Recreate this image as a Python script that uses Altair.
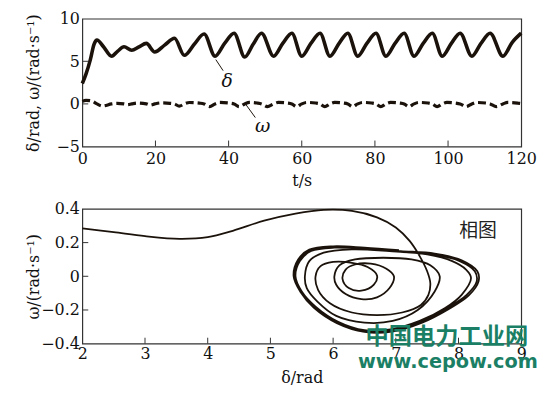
import altair as alt
import pandas as pd

# ---------------- data: time series (top panel) ----------------
t_delta = [0, 1, 2.2, 3.2, 4.0, 5.8, 8.0, 9.7, 11.4, 13.5,
           15.5, 17.5, 19.8, 22.5, 25.2, 27.9, 30.6, 33.3, 36.3, 38.9,
           41.5, 44.4, 46.7, 49.0, 52.3, 54.8, 57.3, 60.0, 62.5, 65.0,
           67.7, 70.2, 72.6, 75.3, 77.8, 80.3, 83.0, 85.5, 88.0, 90.7,
           93.2, 95.7, 98.4, 100.9, 103.3, 106.5, 109.0, 111.5, 115.0, 117.5,
           120.0]
delta = [2.4, 3.5, 5.2, 7.0, 7.5, 6.7, 5.6, 6.2, 6.7, 6.3,
         6.7, 7.1, 6.1, 6.9, 7.7, 5.7, 7.0, 8.2, 5.6, 7.1,
         8.3, 5.5, 7.0, 8.3, 5.6, 7.1, 8.3, 5.6, 7.1, 8.3,
         5.6, 7.1, 8.3, 5.6, 7.1, 8.3, 5.6, 7.1, 8.3, 5.6,
         7.1, 8.3, 5.6, 7.1, 8.3, 5.6, 7.1, 8.3, 5.6, 7.2,
         8.3]

t_omega = [0, 1.0, 2.5, 4.0, 5.5, 8.0, 9.5, 11.4, 12.4, 13.5,
           15.0, 17.5, 18.6, 19.8, 21.5, 24.0, 25.2, 26.5, 27.9, 29.3,
           32.0, 33.3, 34.8, 36.3, 37.6, 40.3, 41.5, 42.9, 44.4, 45.7,
           47.8, 49.0, 50.6, 52.3, 53.6, 56.1, 57.3, 58.6, 60.0, 61.3,
           63.8, 65.0, 66.3, 67.7, 69.0, 71.4, 72.6, 73.9, 75.3, 76.6,
           79.1, 80.3, 81.6, 83.0, 84.3, 86.8, 88.0, 89.3, 90.7, 92.0,
           94.5, 95.7, 97.0, 98.4, 99.7, 102.1, 103.3, 104.9, 106.5, 107.8,
           110.3, 111.5, 113.2, 115.0, 116.3, 119.0, 120.0]
omega = [0.30, 0.42, 0.35, 0.0, -0.25, 0.0, 0.07, 0.0, -0.08, 0.0,
         0.09, 0.0, -0.14, 0.0, 0.12, 0.07, 0.0, -0.27, 0.0, 0.16,
         0.09, 0.0, -0.31, 0.0, 0.17, 0.10, 0.0, -0.32, 0.0, 0.17,
         0.10, 0.0, -0.32, 0.0, 0.17, 0.10, 0.0, -0.32, 0.0, 0.17,
         0.10, 0.0, -0.32, 0.0, 0.17, 0.10, 0.0, -0.32, 0.0, 0.17,
         0.10, 0.0, -0.32, 0.0, 0.17, 0.10, 0.0, -0.32, 0.0, 0.17,
         0.10, 0.0, -0.32, 0.0, 0.17, 0.10, 0.0, -0.32, 0.0, 0.17,
         0.10, 0.0, -0.32, 0.0, 0.17, 0.10, 0.05]

# ---------------- data: phase portrait (bottom panel) ----------------
phase_delta = [
    2.00, 2.50, 3.00, 3.55, 4.00, 4.40, 4.90, 5.40, 5.85, 6.30, 6.70, 7.00, 7.22, 7.38, 7.50, 7.55, 7.52,
    7.40, 7.10, 6.70, 6.30, 5.95, 5.76, 5.72,
    5.80, 6.00, 6.30, 6.55, 6.70,
    6.65, 6.45, 6.25, 6.15,
    6.20, 6.35, 6.60, 6.85, 6.97,
    6.90, 6.70, 6.45, 6.20, 6.05, 6.02,
    6.10, 6.35, 6.80, 7.25, 7.55, 7.70,
    7.62, 7.35, 6.95, 6.50, 6.05, 5.75, 5.58, 5.55,
    5.62, 5.85, 6.30, 6.90, 7.50, 7.90, 8.12, 8.20,
    8.05, 7.78, 7.38, 6.92, 6.50, 6.08, 5.72, 5.50, 5.40,
    5.47, 5.65, 6.02, 6.55, 7.08, 7.60, 8.02, 8.26, 8.29,
    8.13, 7.81, 7.39, 6.92, 6.50, 6.08, 5.71, 5.50, 5.39,
    5.45, 5.63, 6.00, 6.55, 7.08, 7.62, 8.05, 8.30, 8.32,
    8.16, 7.84, 7.42, 6.94, 6.50, 6.06, 5.69, 5.48, 5.37,
    5.44, 5.62, 6.00, 6.50, 7.05,
]
phase_omega = [
    0.285, 0.262, 0.238, 0.222, 0.232, 0.270, 0.330, 0.372, 0.394, 0.388, 0.350, 0.290, 0.210, 0.120, 0.030, -0.040, -0.110,
    -0.170, -0.215, -0.230, -0.215, -0.160, -0.080, 0.000,
    0.060, 0.085, 0.080, 0.055, 0.005,
    -0.050, -0.085, -0.070, -0.015,
    0.040, 0.070, 0.075, 0.045, 0.000,
    -0.070, -0.125, -0.135, -0.105, -0.050, 0.000,
    0.065, 0.100, 0.110, 0.100, 0.065, 0.000,
    -0.090, -0.200, -0.265, -0.275, -0.235, -0.150, -0.070, 0.000,
    0.090, 0.140, 0.160, 0.150, 0.130, 0.090, 0.040, -0.010,
    -0.110, -0.190, -0.265, -0.315, -0.320, -0.270, -0.180, -0.090, 0.000,
    0.090, 0.150, 0.170, 0.160, 0.145, 0.130, 0.090, 0.030, -0.030,
    -0.110, -0.190, -0.270, -0.320, -0.322, -0.272, -0.182, -0.092, 0.000,
    0.095, 0.155, 0.175, 0.165, 0.150, 0.135, 0.095, 0.030, -0.030,
    -0.115, -0.195, -0.275, -0.328, -0.330, -0.278, -0.186, -0.094, 0.000,
    0.098, 0.158, 0.178, 0.170, 0.155,
]

# ---------------- ticks / labels ----------------
top_x_labels = [0, 20, 40, 60, 80, 100, 120]
top_y_labels = [-5, 0, 5, 10]
top_x_inner = [20, 40, 60, 80, 100]
top_y_inner = [0, 5]
bot_x_labels = [2, 3, 4, 5, 6, 7, 8, 9]
bot_y_labels = [-0.4, -0.2, 0, 0.2, 0.4]
bot_x_inner = [3, 4, 5, 6, 7, 8]
bot_y_inner = [-0.2, 0, 0.2]

# annotations (top panel): label text position and leader line
ann_labels = ["δ", "ω"]
ann_t = [39.6, 49.3]
ann_v = [2.7, -2.6]
lead_t1 = [36.5, 44.6]
lead_v1 = [5.2, 0.0]
lead_t2 = [38.5, 47.3]
lead_v2 = [3.9, -1.6]

# ---------------- styling ----------------
W = 443
H1 = 129
H2 = 136
SERIF = "DejaVu Serif"
INK = "#1b130b"
FRAME = "#333333"
LBL_EXPR = "datum.value == 0 ? '0' : (abs(datum.value) < 1 ? format(datum.value, '.1f') : format(datum.value, 'd'))"


def axis_x(values, title, pad):
    return alt.Axis(values=values, title=title, ticks=False, tickSize=0, domain=False, grid=False,
                    labelFont=SERIF, labelFontSize=16, labelColor="#111111", labelPadding=pad,
                    labelFlush=False, labelOverlap=False, labelExpr=LBL_EXPR,
                    titleFont=SERIF, titleFontSize=16, titleFontWeight="normal", titleColor="#111111",
                    titleX=W / 2, titleY=34, titleAlign="center", titleBaseline="middle")


def axis_y(values, title, h):
    return alt.Axis(values=values, title=title, ticks=False, tickSize=0, domain=False, grid=False,
                    labelFont=SERIF, labelFontSize=16, labelColor="#111111", labelPadding=3,
                    labelFlush=False, labelOverlap=False, labelExpr=LBL_EXPR,
                    titleFont=SERIF, titleFontSize=16, titleFontWeight="normal", titleColor="#111111",
                    titleX=-49, titleY=h / 2, titleAngle=270, titleAlign="center", titleBaseline="middle")


# ---------------- top panel ----------------
xs1 = alt.Scale(domain=[0, 120], nice=False, zero=False)
ys1 = alt.Scale(domain=[-5, 10], nice=False, zero=False)
ax1 = axis_x(top_x_labels, "t/s", 4)
ay1 = axis_y(top_y_labels, "δ/rad, ω/(rad·s⁻¹)", H1)

X1 = lambda: alt.X("t:Q", scale=xs1, axis=ax1)
Y1 = lambda: alt.Y("v:Q", scale=ys1, axis=ay1)

df_delta = pd.DataFrame({"t": t_delta, "v": delta})
df_omega = pd.DataFrame({"t": t_omega, "v": omega})

delta_line = alt.Chart(df_delta).mark_line(color=INK, strokeWidth=3.6, interpolate="monotone").encode(x=X1(), y=Y1())
omega_line = alt.Chart(df_omega).mark_line(color=INK, strokeWidth=3.2, strokeDash=[8, 4],
                                           interpolate="monotone").encode(x=X1(), y=Y1())

tx1 = alt.Chart(pd.DataFrame({"t": top_x_inner})).mark_rule(color=FRAME, strokeWidth=1).encode(
    x=X1(), y=alt.value(H1), y2=alt.value(H1 - 6))
ty1 = alt.Chart(pd.DataFrame({"v": top_y_inner})).mark_rule(color=FRAME, strokeWidth=1).encode(
    y=Y1(), x=alt.value(0), x2=alt.value(6))

df_lead = pd.DataFrame({"t": lead_t1, "v": lead_v1, "t2": lead_t2, "v2": lead_v2})
leaders = alt.Chart(df_lead).mark_rule(color=INK, strokeWidth=1).encode(
    x=X1(), y=Y1(), x2="t2:Q", y2="v2:Q")
df_ann = pd.DataFrame({"t": ann_t, "v": ann_v, "s": ann_labels})
ann_text = alt.Chart(df_ann).mark_text(font=SERIF, fontSize=19, fontStyle="italic", color="#111111").encode(
    x=X1(), y=Y1(), text="s:N")

top = alt.layer(delta_line, omega_line, tx1, ty1, leaders, ann_text).properties(width=W, height=H1)

# ---------------- bottom panel ----------------
xs2 = alt.Scale(domain=[2, 9], nice=False, zero=False)
ys2 = alt.Scale(domain=[-0.4, 0.4], nice=False, zero=False)
ax2 = axis_x(bot_x_labels, "δ/rad", 2)
ay2 = axis_y(bot_y_labels, "ω/(rad·s⁻¹)", H2)

X2 = lambda: alt.X("d:Q", scale=xs2, axis=ax2)
Y2 = lambda: alt.Y("w:Q", scale=ys2, axis=ay2)

df_phase = pd.DataFrame({"d": phase_delta, "w": phase_omega})
df_phase["i"] = range(len(df_phase))
phase_line = alt.Chart(df_phase).mark_line(color=INK, strokeWidth=1.8, interpolate="catmull-rom").encode(
    x=X2(), y=Y2(), order="i:Q")

tx2 = alt.Chart(pd.DataFrame({"d": bot_x_inner})).mark_rule(color=FRAME, strokeWidth=1).encode(
    x=X2(), y=alt.value(H2), y2=alt.value(H2 - 6))
ty2 = alt.Chart(pd.DataFrame({"w": bot_y_inner})).mark_rule(color=FRAME, strokeWidth=1).encode(
    y=Y2(), x=alt.value(0), x2=alt.value(6))

phase_label = alt.Chart(pd.DataFrame({"d": [8.31], "w": [0.27], "s": ["相图"]})).mark_text(
    font="Noto Sans CJK SC", fontSize=19, color="#222222").encode(x=X2(), y=Y2(), text="s:N")

wm1 = alt.Chart(pd.DataFrame({"s": ["中国电力工业网"]})).mark_text(
    font="Noto Sans CJK SC", fontSize=23.5, fontWeight="bold", color="#1b7f65").encode(
    x=alt.value(368), y=alt.value(129), text="s:N")
wm2 = alt.Chart(pd.DataFrame({"s": ["www.cepow.com"]})).mark_text(
    font="DejaVu Sans", fontSize=19.5, fontWeight="bold", color="#1b7f65").encode(
    x=alt.value(369), y=alt.value(155), text="s:N")

bottom = alt.layer(phase_line, tx2, ty2, phase_label, wm1, wm2).properties(width=W, height=H2)

chart = alt.vconcat(top, bottom, spacing=11).properties(
    padding={"left": 17, "top": 0, "right": 5, "bottom": 5},
    background="white",
).configure_view(stroke=FRAME, strokeWidth=1.2)

chart.save("out.html", embed_options={"renderer": "svg", "actions": False})
